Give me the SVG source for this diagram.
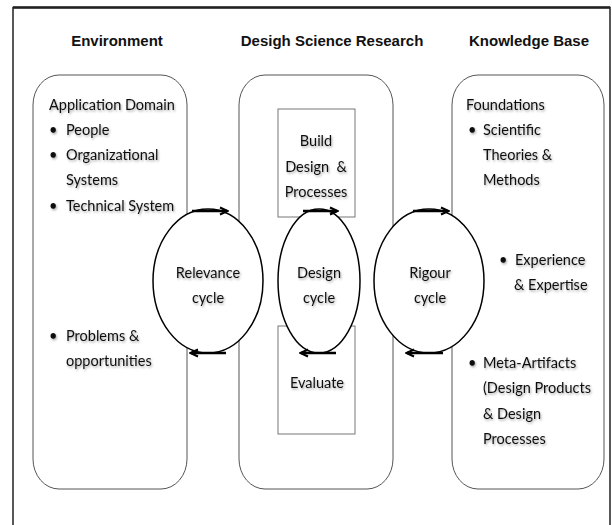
<svg xmlns="http://www.w3.org/2000/svg" width="612" height="525" viewBox="0 0 612 525">
<defs>
<filter id="sh" x="-10%" y="-30%" width="130%" height="170%">
<feDropShadow dx="1" dy="1.5" stdDeviation="0.8" flood-color="#000" flood-opacity="0.35"/>
</filter>
<marker id="ah" markerWidth="10" markerHeight="10" refX="8" refY="5" orient="auto" markerUnits="userSpaceOnUse">
<path d="M1,1.5 L8.5,5 L1,8.5" fill="none" stroke="#000" stroke-width="2"/>
</marker>
</defs>
<style>
.title{font-family:"Liberation Sans",Arial,sans-serif;font-weight:bold;font-size:15px;fill:#111;text-anchor:middle}
.t{font-family:Lato,"Open Sans",sans-serif;font-size:14.5px;fill:#111;filter:url(#sh)}
.c{text-anchor:middle}
.box{fill:#fff;stroke:#555;stroke-width:1}
.sq{fill:#fff;stroke:#777;stroke-width:1}
.cyc{fill:#fff;stroke:#000;stroke-width:1.5}
.arr{fill:none;stroke:#000;stroke-width:2.5;marker-end:url(#ah)}
</style>
<rect x="0" y="0" width="612" height="525" fill="#fff"/>
<rect x="13" y="7.5" width="597" height="540" fill="none" stroke="#222" stroke-width="1.5"/>
<line x1="13" y1="7.5" x2="610" y2="7.5" stroke="#222" stroke-width="2.5"/>

<g id="titles">
<text class="title" x="117" y="46">Environment</text>
<text class="title" x="332" y="46">Desigh Science Research</text>
<text class="title" x="529" y="46">Knowledge Base</text>
</g>

<g id="environment">
<rect class="box" x="33" y="75" width="154" height="414" rx="26" ry="30"/>
<text class="t" x="49" y="110">Application Domain</text>
<text class="t" x="49" y="135">•</text><text class="t" x="66" y="135">People</text>
<text class="t" x="49" y="160">•</text><text class="t" x="66" y="160">Organizational</text>
<text class="t" x="66" y="185">Systems</text>
<text class="t" x="49" y="211">•</text><text class="t" x="66" y="211">Technical System</text>
<text class="t" x="49" y="341">•</text><text class="t" x="66" y="341">Problems &amp;</text>
<text class="t" x="66" y="366">opportunities</text>
</g>

<g id="dsr">
<rect class="box" x="239" y="75" width="154" height="414" rx="26" ry="30"/>
</g>

<g id="build">
<rect class="sq" x="278" y="109" width="77" height="108"/>
<text class="t c" x="316" y="146">Build</text>
<text class="t c" x="316" y="172" xml:space="preserve">Design  &amp;</text>
<text class="t c" x="316" y="197">Processes</text>
</g>

<g id="evaluate">
<rect class="sq" x="278" y="326" width="77" height="108"/>
<text class="t c" x="317" y="388">Evaluate</text>
</g>

<g id="knowledge">
<rect class="box" x="452" y="75" width="152" height="414" rx="26" ry="30"/>
<text class="t" x="466" y="110">Foundations</text>
<text class="t" x="468" y="135">•</text><text class="t" x="483" y="135">Scientific</text>
<text class="t" x="483" y="160">Theories &amp;</text>
<text class="t" x="483" y="185">Methods</text>
<text class="t" x="499" y="265">•</text><text class="t" x="515" y="265">Experience</text>
<text class="t" x="514" y="290">&amp; Expertise</text>
<text class="t" x="468" y="368">•</text><text class="t" x="483" y="368">Meta-Artifacts</text>
<text class="t" x="483" y="393">(Design Products</text>
<text class="t" x="483" y="419">&amp; Design</text>
<text class="t" x="483" y="444">Processes</text>
</g>

<g id="relevance">
<ellipse class="cyc" cx="208" cy="281" rx="55" ry="72"/>
<text class="t c" x="208" y="278">Relevance</text>
<text class="t c" x="208" y="303">cycle</text>
</g>

<g id="design">
<ellipse class="cyc" cx="319" cy="281" rx="41" ry="72"/>
<text class="t c" x="319" y="278">Design</text>
<text class="t c" x="319" y="303">cycle</text>
</g>

<g id="rigour">
<ellipse class="cyc" cx="429" cy="281" rx="55" ry="72"/>
<text class="t c" x="430" y="278">Rigour</text>
<text class="t c" x="430" y="303">cycle</text>
</g>

<g id="connectors">
<line class="arr" x1="192" y1="211" x2="227" y2="211"/>
<line class="arr" x1="226" y1="353" x2="191" y2="353"/>
<line class="arr" x1="303" y1="211" x2="337" y2="211"/>
<line class="arr" x1="336" y1="353" x2="301" y2="353"/>
<line class="arr" x1="413" y1="211" x2="448" y2="211"/>
<line class="arr" x1="443" y1="353" x2="407" y2="353"/>
</g>
</svg>
